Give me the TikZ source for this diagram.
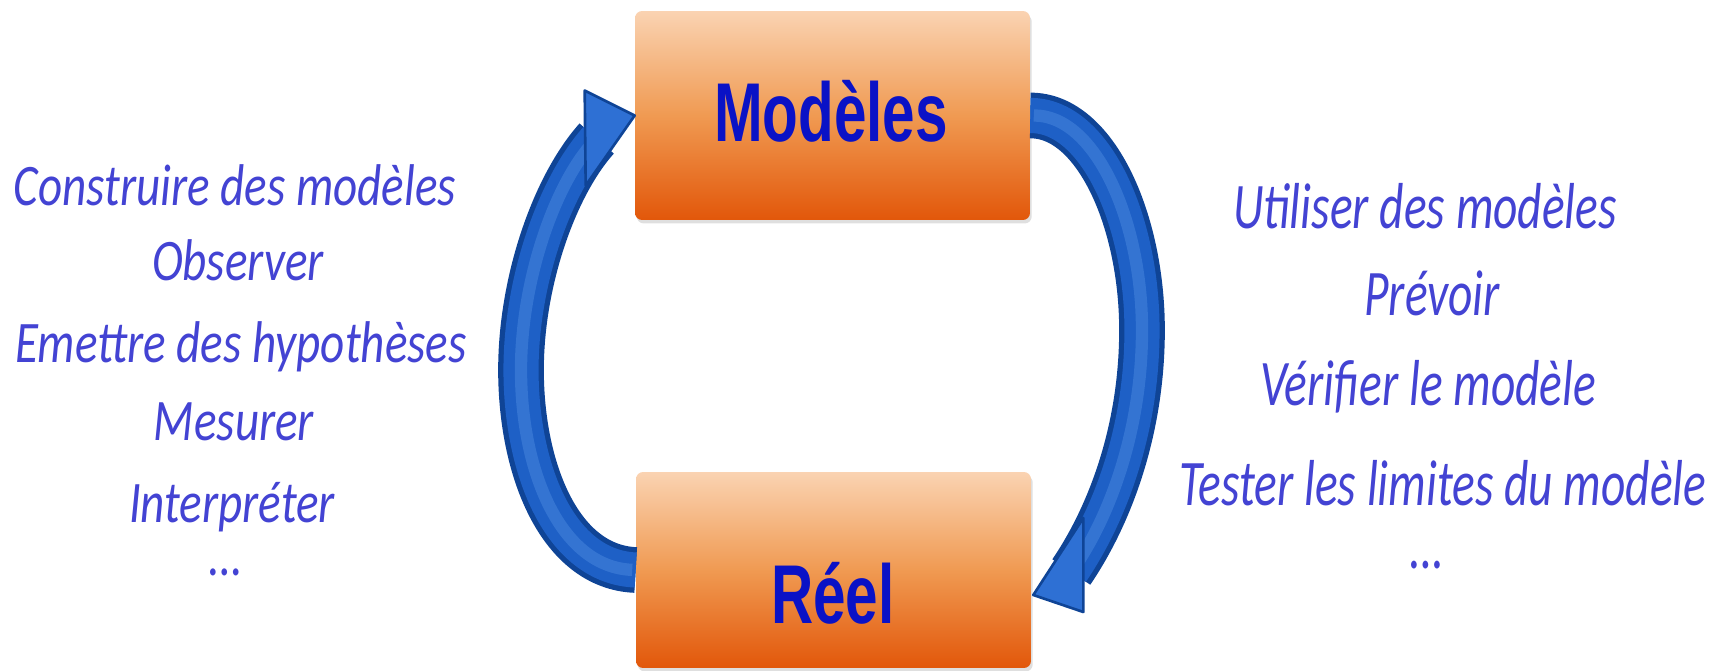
\documentclass[tikz,border=0pt]{standalone}
\usepackage{fontspec}
\usepackage{xcolor}
\usepackage{tikz}
\usetikzlibrary{shadows}

\newfontfamily\leftfont[FakeStretch=0.80]{Carlito}
\newfontfamily\rightfont[FakeStretch=0.73]{Carlito}
\newfontfamily\boxfont[FakeStretch=0.70]{Liberation Sans}

\definecolor{notecol}{HTML}{4343D3}
\definecolor{boxtxt}{HTML}{0A12C6}
\definecolor{boxtop}{HTML}{FAD3B2}
\definecolor{boxmid}{HTML}{F09A52}
\definecolor{boxbot}{HTML}{E2570A}
\definecolor{arrowdark}{HTML}{0F4496}
\definecolor{arrowmid}{HTML}{1E60C6}
\definecolor{arrowlight}{HTML}{3474D2}
\definecolor{headfill}{HTML}{2E70D4}

\begin{document}
\begin{tikzpicture}[x=0.02cm, y=-0.02cm,
    box/.style={rectangle, rounded corners=4pt, minimum width=7.9cm, inner sep=0pt,
        top color=boxtop, bottom color=boxbot, middle color=boxmid,
        drop shadow={opacity=0.25, shadow xshift=1pt, shadow yshift=-2pt}},
    boxlabel/.style={anchor=base, text=boxtxt, font=\boxfont\bfseries\fontsize{47.5}{50}\selectfont},
    leftnote/.style={anchor=base, inner sep=0pt, text=notecol, font=\leftfont\itshape\fontsize{33.5}{40}\selectfont},
    rightnote/.style={anchor=base, inner sep=0pt, text=notecol, font=\rightfont\itshape\fontsize{37}{44}\selectfont},
    shaft/.style={line width=26pt, draw=arrowdark},
    shaftmid/.style={line width=20pt, draw=arrowmid},
    shaftlight/.style={line width=7pt, draw=arrowlight, shorten <=2pt, shorten >=4pt},
    head/.style={fill=headfill, draw=arrowdark, line width=1.5pt, line join=round}]

    \useasboundingbox (0,0) rectangle (1725,670);

    % the two boxes
    \node[box, minimum height=4.18cm] (modeles) at (832.5,115.5) {};
    \node[box, minimum height=3.92cm] (reel) at (833.5,570) {};
    \node[boxlabel] (modeles-lbl) at (831,141) {Modèles};
    \node[boxlabel] (reel-lbl) at (833,623) {Réel};

    % left arrow, from the real world up to the models
    \coordinate (modeles-in) at ([shift={(-38,23)}]modeles.west);
    \foreach \lay in {shaft, shaftmid, shaftlight}
        \draw[\lay] (reel.west) .. controls (560,567) and (521,470) .. (521,370)
            .. controls (521,280) and (555,185) .. (modeles-in);
    \draw[head] (modeles.west) -- ++(-50,-25) -- ++(1,95) -- cycle;

    % right arrow, from the models down to the real world
    \coordinate (reel-tip) at ([shift={(2,25)}]reel.east);
    \coordinate (reel-in) at ([shift={(38,-23)}]reel-tip);
    \foreach \lay in {shaft, shaftmid, shaftlight}
        \draw[\lay] (modeles.east) .. controls (1095,115) and (1142,220) .. (1142,330)
            .. controls (1142,430) and (1110,515) .. (reel-in);
    \draw[head] (reel-tip) -- ++(50,-77) -- ++(0,94) -- cycle;

    % notes on the left
    \foreach \x/\y/\txt in {235/205/Construire des modèles, 238/280/Observer,
        241/362/Emettre des hypothèses, 234/440/Mesurer, 232/522/Interpréter, 226/575/{\ldots}}
        \node[leftnote] (left-\y) at (\x,\y) {\txt};

    % notes on the right
    \foreach \x/\y/\txt in {1425/228/Utiliser des modèles, 1432/315/Prévoir,
        1428/405/Vérifier le modèle, 1443/505/Tester les limites du modèle, 1427/568/{\ldots}}
        \node[rightnote] (right-\y) at (\x,\y) {\txt};

\end{tikzpicture}
\end{document}
